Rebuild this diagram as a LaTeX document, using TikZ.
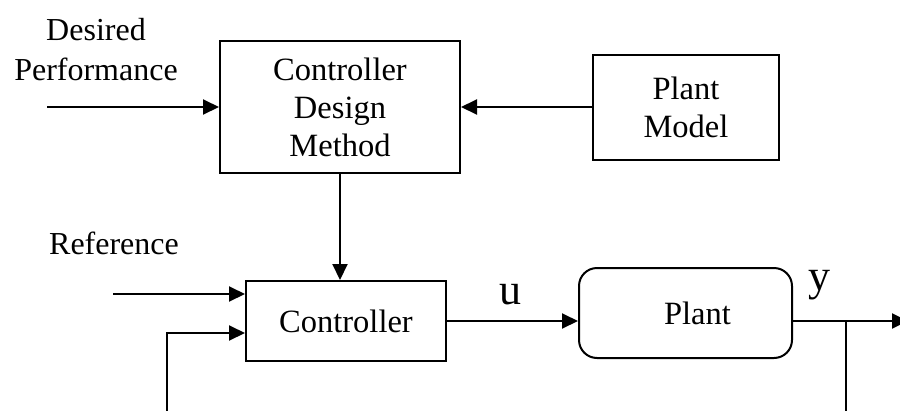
\documentclass[tikz,border=0pt]{standalone}
\usepackage{fontspec}
\setmainfont{Liberation Serif}
\usetikzlibrary{arrows.meta}
\begin{document}
\begin{tikzpicture}[x=1pt,y=-1pt,
  blk/.style={draw,line width=2pt,inner sep=0pt,font=\fontsize{32.5}{38}\selectfont,align=center},
  lbl/.style={inner sep=0pt,font=\fontsize{32}{40}\selectfont,align=center},
  sig/.style={inner sep=0pt,font=\fontsize{44}{44}\selectfont},
  conn/.style={line width=2pt,-{Triangle[length=16pt,width=15pt]}},
  wire/.style={line width=2pt}]
\useasboundingbox (0,0) rectangle (900,410);
\node[blk,minimum width=240pt,minimum height=132pt] (cdm) at (340,107) {Controller\\Design\\Method};
\node[blk,minimum width=186pt,minimum height=105pt] (pm) at (686,107) {Plant\\Model};
\node[blk,minimum width=200pt,minimum height=80pt] (ctrl) at (346,321) {Controller};
\node[blk,rounded corners=18pt,minimum width=213pt,minimum height=90pt] (plant) at (685.5,313) {\hspace*{24pt}Plant};
\node[lbl] (dp) at (96,50) {Desired\\Performance};
\node[lbl] (ref) at (114,243) {Reference};
\node[sig] (u) at (510,295) {u};
\node[sig] (y) at (819,285) {y};
\coordinate (dpin) at (47,107);
\coordinate (refin) at (113,294);
\coordinate (fbbot) at (167,412);
\coordinate (fbcorner) at (167,333);
\coordinate (branch) at (846,321);
\coordinate (brbot) at (846,412);
\coordinate (out) at (908,321);
\draw[conn] (dpin) -- (dpin -| cdm.west);
\draw[conn] (pm.west) -- (pm.west -| cdm.east);
\draw[conn] (cdm.south) -- (cdm.south |- ctrl.north);
\draw[conn] (refin) -- (refin -| ctrl.west);
\draw[conn] (fbbot) -- (fbcorner) -- (fbcorner -| ctrl.west);
\draw[conn] (ctrl.east) -- (ctrl.east -| plant.west);
\draw[conn] (plant.east |- ctrl.east) -- (out);
\draw[wire] (branch) -- (brbot);
\end{tikzpicture}
\end{document}
